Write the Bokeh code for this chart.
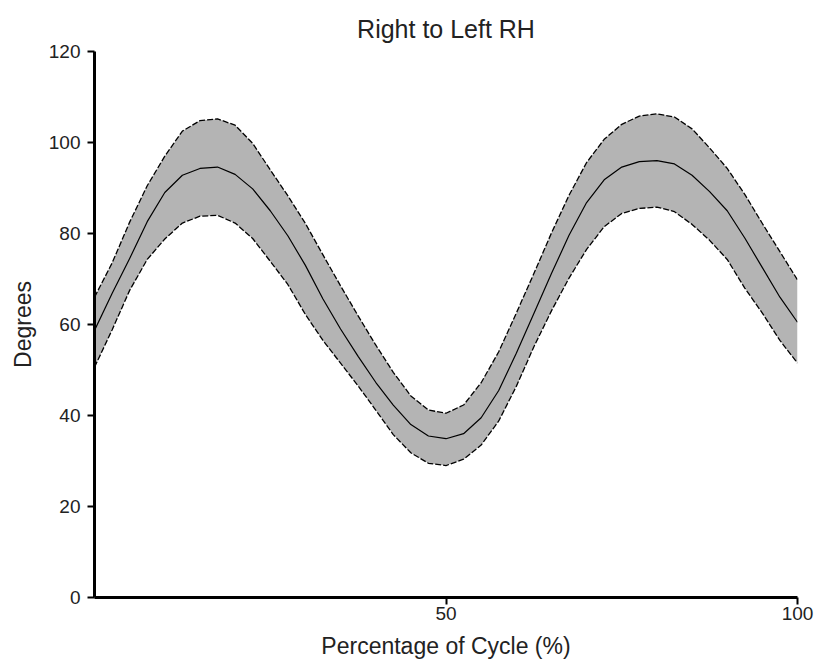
from bokeh.plotting import figure
from bokeh.models import Range1d, FixedTicker
from bokeh.embed import file_html
from bokeh.resources import INLINE

# Percentage of cycle
x_pct = [0, 2.5, 5, 7.5, 10, 12.5, 15, 17.5, 20, 22.5, 25, 27.5, 30, 32.5, 35, 37.5,
         40, 42.5, 45, 47.5, 50, 52.5, 55, 57.5, 60, 62.5, 65, 67.5, 70, 72.5, 75,
         77.5, 80, 82.5, 85, 87.5, 90, 92.5, 95, 97.5, 100]

mean_deg = [58.7, 66.8, 74.5, 82.6, 89.0, 92.8, 94.3, 94.6, 93.0, 89.8, 85.0, 79.5,
            73.0, 65.6, 59.0, 53.0, 47.3, 42.3, 38.0, 35.5, 34.9, 36.0, 39.5, 45.5,
            53.7, 62.4, 71.2, 79.6, 86.8, 91.8, 94.6, 95.8, 96.0, 95.3, 92.8, 89.2,
            85.0, 79.0, 72.5, 66.0, 60.5]

upper_deg = [66.0, 73.5, 82.5, 90.5, 97.0, 102.5, 104.8, 105.2, 103.8, 99.8, 94.0,
             88.3, 82.2, 75.3, 68.5, 61.9, 55.5, 49.5, 44.3, 41.2, 40.5, 42.3, 47.2,
             54.0, 62.5, 71.2, 80.1, 88.4, 95.6, 100.7, 104.0, 105.8, 106.3, 105.6,
             103.0, 98.8, 94.3, 88.6, 82.2, 76.0, 69.8]

lower_deg = [50.6, 58.8, 67.5, 74.3, 78.8, 82.3, 83.8, 84.0, 82.3, 78.9, 73.9, 68.8,
             62.2, 56.5, 51.5, 46.5, 41.2, 35.8, 31.8, 29.5, 29.0, 30.4, 33.5, 38.8,
             46.4, 55.1, 63.0, 70.2, 76.5, 81.5, 84.4, 85.5, 85.8, 84.8, 82.0, 78.5,
             74.3, 68.0, 62.5, 56.5, 51.5]

x_ticks = [50, 100]
y_ticks = [0, 20, 40, 60, 80, 100, 120]

FONT = "Liberation Sans"

p = figure(width=816, height=666, output_backend="svg", toolbar_location=None,
           x_range=Range1d(0, 100), y_range=Range1d(0, 120),
           min_border_left=94, min_border_right=19, min_border_top=51,
           min_border_bottom=69)

p.title.text = "Right to Left RH"
p.title.align = "center"
p.title.text_font = FONT
p.title.text_font_size = "25px"
p.title.text_font_style = "normal"
p.title.text_color = "#222222"
p.title.standoff = 18

p.outline_line_color = None
p.grid.visible = False
p.background_fill_color = "white"
p.border_fill_color = "white"

p.varea(x=x_pct, y1=lower_deg, y2=upper_deg, fill_color="#b4b4b4", fill_alpha=1.0)
p.line(x_pct, upper_deg, line_color="black", line_width=1.3, line_dash="6 2",
       line_join="round")
p.line(x_pct, lower_deg, line_color="black", line_width=1.3, line_dash="6 2",
       line_join="round")
p.line(x_pct, mean_deg, line_color="black", line_width=1.2, line_join="round")

for ax in (p.xaxis[0], p.yaxis[0]):
    ax.axis_line_width = 3
    ax.axis_line_color = "black"
    ax.major_tick_line_width = 2
    ax.major_tick_line_color = "black"
    ax.major_tick_out = 7
    ax.major_tick_in = 0
    ax.minor_tick_line_color = None
    ax.major_label_text_font = FONT
    ax.major_label_text_font_size = "19px"
    ax.major_label_text_color = "#222222"
    ax.axis_label_text_font = FONT
    ax.axis_label_text_font_size = "23px"
    ax.axis_label_text_font_style = "normal"
    ax.axis_label_text_color = "#222222"

p.xaxis.ticker = FixedTicker(ticks=x_ticks)
p.yaxis.ticker = FixedTicker(ticks=y_ticks)
p.xaxis.axis_label = "Percentage of Cycle (%)"
p.yaxis.axis_label = "Degrees"
p.xaxis.major_label_standoff = 2
p.xaxis.axis_label_standoff = 10
p.yaxis.major_label_standoff = 7
p.yaxis.axis_label_standoff = 10

open("out.html", "w").write(file_html(p, INLINE))
